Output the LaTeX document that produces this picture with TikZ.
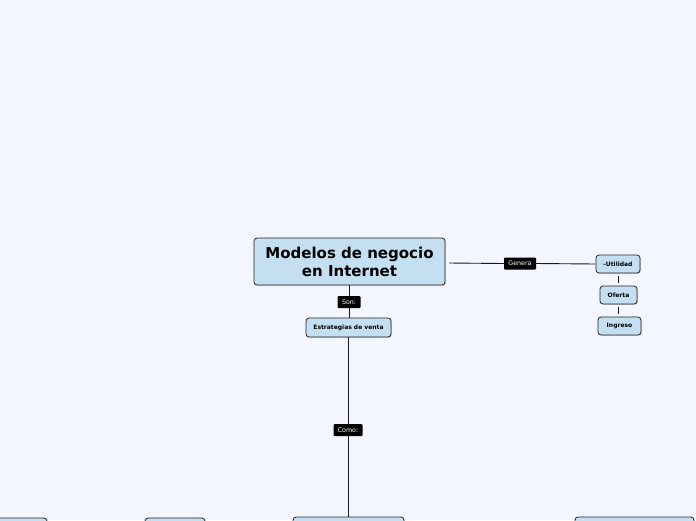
\documentclass[tikz,border=0pt]{standalone}
\usepackage{fontspec}
\setmainfont{DejaVu Sans}
\usetikzlibrary{shadows}
\begin{document}
\begin{tikzpicture}[x=1pt,y=-1pt,
  topic/.style={draw=black!85,line width=0.8pt,fill=boxblue,rounded corners=3pt,inner sep=0pt,font=\bfseries,
    drop shadow={shadow xshift=0.8pt,shadow yshift=-0.8pt,opacity=0.35}},
  lbl/.style={fill=black,text=white,rounded corners=1pt,inner sep=0pt,font=\fontsize{6.3}{7}\selectfont},
  conn/.style={draw=black!90,line width=0.9pt}]
\definecolor{bgc}{HTML}{F3F6FE}
\definecolor{boxblue}{HTML}{C4DFF1}
\useasboundingbox (0,0) rectangle (696,520);
\clip (0,0) rectangle (696,520);
\fill[bgc] (0,0) rectangle (696,520);
% nodes
\node[topic,minimum width=191pt,minimum height=47pt,align=center,font=\bfseries\fontsize{15}{18}\selectfont] (main) at (349.5,261.5) {Modelos de negocio\\en Internet};
\node[topic,minimum width=85pt,minimum height=19pt,font=\bfseries\fontsize{6}{7}\selectfont] (estr) at (348.5,327.5) {Estrategias de venta};
\node[topic,minimum width=44pt,minimum height=18pt,font=\bfseries\fontsize{6}{7}\selectfont] (util) at (618,264) {-Utilidad};
\node[topic,minimum width=37pt,minimum height=18pt,font=\bfseries\fontsize{6}{7}\selectfont] (ofer) at (618.5,295) {Oferta};
\node[topic,minimum width=43pt,minimum height=18pt,font=\bfseries\fontsize{6}{7}\selectfont] (ingr) at (619.5,326) {Ingreso};
% bottom partially visible boxes
\node[topic,minimum width=111pt,minimum height=30pt] (b3) at (348.5,532) {};
\node[topic,minimum width=60pt,minimum height=30pt] (b2) at (175,533) {};
\node[topic,minimum width=60pt,minimum height=30pt] (b1) at (17,533) {};
\node[topic,minimum width=119pt,minimum height=30pt] (b4) at (634.5,532) {};
% labels
\node[lbl,minimum width=23pt,minimum height=12pt] (son) at (349,302) {Son:};
\node[lbl,minimum width=29pt,minimum height=12pt] (como) at (348,430) {Como:};
\node[lbl,minimum width=32pt,minimum height=12pt] (gen) at (520,263.5) {Genera};
\coordinate (mr) at (449,263);
% connectors
\draw[conn] (son.north |- main.south) -- (son.north);
\draw[conn] (son.south) -- (son.south |- estr.north);
\draw[conn] (como.north |- estr.south) -- (como.north);
\draw[conn] (como.south) -- (como.south |- b3.north);
\draw[conn] (mr) -- (gen.west);
\draw[conn] (gen.east) -- (util.west);
\draw[conn] ([yshift=-3pt]util.south) -- ([yshift=3pt]util.south |- ofer.north);
\draw[conn] ([yshift=-3pt]ofer.south) -- ([yshift=3pt]ofer.south |- ingr.north);
\end{tikzpicture}
\end{document}
